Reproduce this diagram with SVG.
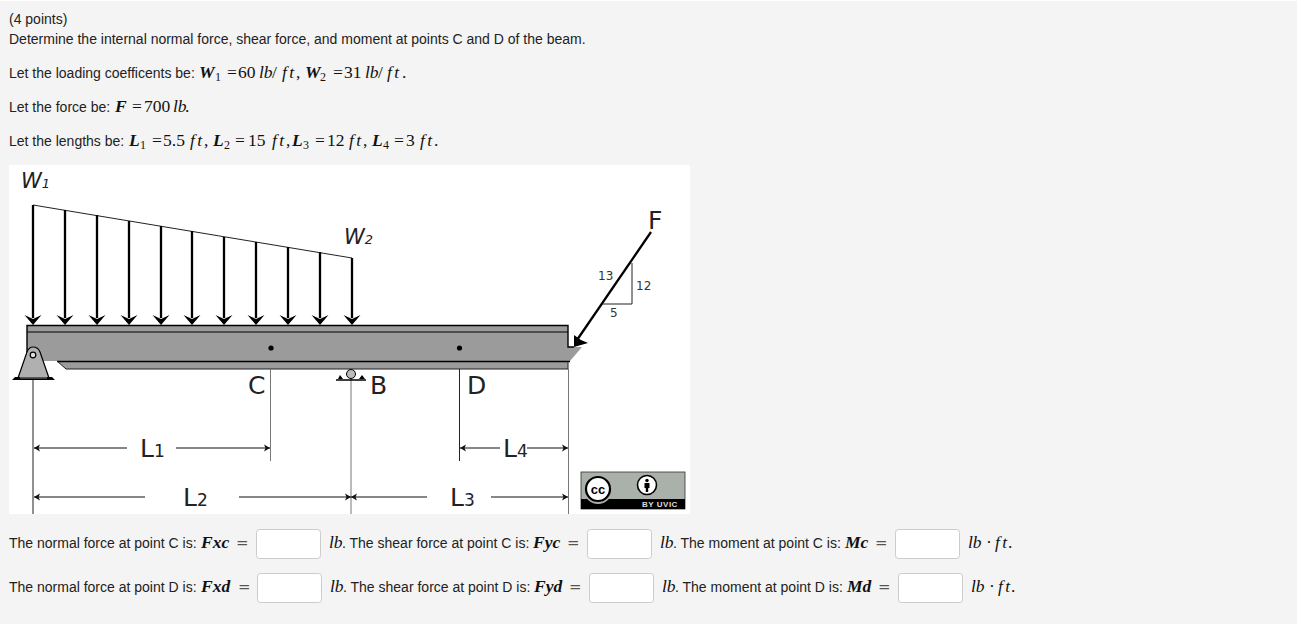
<svg xmlns="http://www.w3.org/2000/svg" width="1297" height="624" viewBox="0 0 1297 624">
<style>
text{font-family:"Liberation Sans",Arial,sans-serif;font-size:14px;fill:#222}
text.m{font-family:"Liberation Serif","Times New Roman",serif;font-size:17.5px;fill:#111}
.mi{font-style:italic;font-weight:bold}
.li{font-style:italic}
.ft{font-style:italic;letter-spacing:2.500px}
.s{font-size:12px}
text.eq{font-family:"DejaVu Sans",Verdana,sans-serif;font-size:15px;fill:#555}
text.d{font-family:"DejaVu Sans",Verdana,sans-serif;font-size:25px;fill:#222}
text.wl{font-family:"DejaVu Sans",Verdana,sans-serif;font-size:21px;font-style:italic;fill:#222}
.ds{font-size:17px}
.ws{font-size:13px}
text.n{font-family:"DejaVu Sans",Verdana,sans-serif;font-size:12px;fill:#333}
.box{fill:#fff;stroke:#ccc;stroke-width:1}
.w{fill:none;stroke:#000;stroke-width:2.300}
.t{fill:none;stroke:#222;stroke-width:1}
.g{fill:none;stroke:#777;stroke-width:1}
.dim{fill:none;stroke:#111;stroke-width:1.200}
</style>
<defs>
<path id="ah" d="M-8.500 -10L0 -6L8.500 -10L0 0Z" fill="#000"/>
<path id="dh" d="M0 0L-6 -3.500L-4.500 0L-6 3.500Z" fill="#111"/>
</defs>
<rect width="1297" height="624" fill="#f4f4f4"/>
<rect width="1297" height="1" fill="#fff"/>
<rect x="9" y="165" width="681" height="349" fill="#fff"/>
<g id="question">
<text x="9" y="24">(4 points)</text>
<text x="9" y="44">Determine the internal normal force, shear force, and moment at points C and D of the beam.</text>
<text x="9" y="78">Let the loading coefficents be:</text>
<text class="m" y="78"><tspan class="mi" x="199">W</tspan><tspan class="s" x="215" dy="3">1</tspan><tspan x="227" dy="-3">=</tspan><tspan x="238">60</tspan><tspan class="li" x="259">lb</tspan><tspan x="272">/</tspan><tspan class="ft" x="282">ft</tspan><tspan x="296">,</tspan><tspan class="mi" x="305">W</tspan><tspan class="s" x="320" dy="3">2</tspan><tspan x="333" dy="-3">=</tspan><tspan x="344">31</tspan><tspan class="li" x="365">lb</tspan><tspan x="378">/</tspan><tspan class="ft" x="387">ft</tspan><tspan x="402">.</tspan></text>
<text x="9" y="112">Let the force be:</text>
<text class="m" y="112"><tspan class="mi" x="115">F</tspan><tspan x="132">=</tspan><tspan x="144">700</tspan><tspan class="li" x="173">lb</tspan><tspan x="185">.</tspan></text>
<text x="9" y="146">Let the lengths be:</text>
<text class="m" y="146"><tspan class="mi" x="129">L</tspan><tspan class="s" x="140" dy="3">1</tspan><tspan x="152" dy="-3">=</tspan><tspan x="163">5.5</tspan><tspan class="ft" x="190">ft</tspan><tspan x="204">,</tspan><tspan class="mi" x="213">L</tspan><tspan class="s" x="224" dy="3">2</tspan><tspan x="235" dy="-3">=</tspan><tspan x="248">15</tspan><tspan class="ft" x="272">ft</tspan><tspan x="286">,</tspan><tspan class="mi" x="292">L</tspan><tspan class="s" x="303" dy="3">3</tspan><tspan x="315" dy="-3">=</tspan><tspan x="327">12</tspan><tspan class="ft" x="349">ft</tspan><tspan x="363">,</tspan><tspan class="mi" x="372">L</tspan><tspan class="s" x="383" dy="3">4</tspan><tspan x="394" dy="-3">=</tspan><tspan x="406">3</tspan><tspan class="ft" x="420">ft</tspan><tspan x="434">.</tspan></text>
</g>
<g id="beam">
<path d="M27 325H568V347H582L570 361H568V369H66L57 361H27Z" fill="#9b9b9b"/>
<path d="M27 361V325.500H568V347H574" fill="none" stroke="#000" stroke-width="1.400"/>
<path d="M27 332H568" stroke="#000" stroke-width="1.200"/>
<path d="M57 361.500H570" stroke="#000" stroke-width="1.600"/>
<path d="M57 361L66 369H568V361" fill="none" stroke="#222" stroke-width="1"/>
<circle cx="271" cy="348" r="2.600" fill="#000"/>
<circle cx="459.500" cy="348" r="2.600" fill="#000"/>
</g>
<g id="connectors">
<path class="t" d="M33 205L352 258"/>
<path class="w" d="M33 205V318M65 210V318M97 215V318M129 221V318M161 226V318M192 231V318M224 237V318M256 242V318M288 247V318M320 252V318M352 258V318"/>
<use href="#ah" x="33" y="325"/><use href="#ah" x="65" y="325"/><use href="#ah" x="97" y="325"/><use href="#ah" x="129" y="325"/><use href="#ah" x="161" y="325"/><use href="#ah" x="192" y="325"/><use href="#ah" x="224" y="325"/><use href="#ah" x="256" y="325"/><use href="#ah" x="288" y="325"/><use href="#ah" x="320" y="325"/><use href="#ah" x="352" y="325"/>
<path d="M651 232L577 340" fill="none" stroke="#000" stroke-width="2.300"/>
<path d="M574 347L574 335L581 340L588 343Z" fill="#000"/>
<path class="t" d="M632 263V304H603"/>
<path class="t" d="M33 379V514"/>
<path class="g" d="M270.500 369V461"/>
<path class="g" d="M351 378V514"/>
<path class="t" d="M459.500 369V461"/>
<path class="g" d="M568.500 369V514"/>
<path class="dim" d="M34 448H127M176 448H270M34 497H145M239 497H351M351 497H427M491 497H568M460 448H500M527 448H568"/>
<use href="#dh" transform="translate(34 448) rotate(180)"/><use href="#dh" x="270" y="448"/>
<use href="#dh" transform="translate(34 497) rotate(180)"/><use href="#dh" x="351" y="497"/><use href="#dh" transform="translate(351 497) rotate(180)"/><use href="#dh" x="568" y="497"/>
<use href="#dh" transform="translate(460 448) rotate(180)"/><use href="#dh" x="568" y="448"/>
</g>
<g id="support-A">
<path d="M18 378L27 352Q29 347 33 347Q38 347 40 352L49 378Z" fill="#b0b0b0" stroke="#000" stroke-width="1.200"/>
<circle cx="33" cy="355" r="2.800" fill="#ddd" stroke="#000" stroke-width="1.200"/>
<path d="M12 380L15 377H20V378.500H47V377H52L55 380Z" fill="#000"/>
</g>
<g id="support-B">
<circle cx="351" cy="374" r="4.500" fill="#bbb" stroke="#000"/>
<path d="M336 380H366" stroke="#000" stroke-width="1.500"/>
<path d="M338 379L340 375L343 379ZM359 379L362 375L365 379Z" fill="#000"/>
</g>
<g id="labels">
<text class="wl" x="21" y="188">W<tspan class="ws">1</tspan></text>
<text class="wl" x="344" y="244">W<tspan class="ws">2</tspan></text>
<text class="d" x="648" y="229">F</text>
<text class="d" x="248" y="394">C</text>
<text class="d" x="370" y="394">B</text>
<text class="d" x="467" y="394">D</text>
<text class="d" x="140" y="457">L<tspan class="ds">1</tspan></text>
<text class="d" x="183" y="506">L<tspan class="ds">2</tspan></text>
<text class="d" x="450" y="506">L<tspan class="ds">3</tspan></text>
<text class="d" x="503" y="457">L<tspan class="ds">4</tspan></text>
<text class="n" x="598" y="280">13</text>
<text class="n" x="636" y="290">12</text>
<text class="n" x="610" y="317">5</text>
</g>
<g id="license">
<rect x="581" y="472" width="104" height="37" fill="#aab0aa" stroke="#333" stroke-width="0.800"/>
<rect x="581" y="499" width="104" height="10" fill="#000"/>
<circle cx="598" cy="490" r="14" fill="#aab0aa"/>
<circle cx="598" cy="489" r="12" fill="#fff" stroke="#000" stroke-width="2.200"/>
<text x="598" y="493.500" text-anchor="middle" style="fill:#000;font-size:13px;font-weight:bold">cc</text>
<circle cx="647" cy="485" r="9.500" fill="#fff" stroke="#000" stroke-width="1.600"/>
<circle cx="647" cy="480.500" r="1.700" fill="#000"/>
<path d="M644.500 483H649.500V488H648.200V492H645.800V488H644.500Z" fill="#000"/>
<text x="660" y="507" text-anchor="middle" style="fill:#ddd;font-size:8px;letter-spacing:.5px;font-weight:bold;font-family:'Liberation Sans',sans-serif">BY UVIC</text>
</g>
<g id="answer-row-1">
<text x="9" y="548">The normal force at point C is:</text>
<text class="m mi" x="201" y="548">Fxc</text><text class="eq" x="236" y="548">=</text>
<rect class="box" x="256.500" y="529.500" width="64" height="29" rx="3"/>
<text class="m li" x="329" y="548">lb</text><text x="342" y="548">. The shear force at point C is:</text>
<text class="m mi" x="533" y="548">Fyc</text><text class="eq" x="567" y="548">=</text>
<rect class="box" x="587.500" y="529.500" width="64" height="29" rx="3"/>
<text class="m li" x="660" y="548">lb</text><text x="673" y="548">. The moment at point C is:</text>
<text class="m mi" x="845" y="548">Mc</text><text class="eq" x="875" y="548">=</text>
<rect class="box" x="895.500" y="529.500" width="64" height="29" rx="3"/>
<text class="m" y="548"><tspan class="li" x="968">lb</tspan><tspan x="986">·</tspan><tspan class="ft" x="995">ft</tspan><tspan x="1008">.</tspan></text>
</g>
<g id="answer-row-2">
<text x="9" y="592">The normal force at point D is:</text>
<text class="m mi" x="201" y="592">Fxd</text><text class="eq" x="238" y="592">=</text>
<rect class="box" x="257.500" y="573.500" width="64" height="29" rx="3"/>
<text class="m li" x="330" y="592">lb</text><text x="343" y="592">. The shear force at point D is:</text>
<text class="m mi" x="534" y="592">Fyd</text><text class="eq" x="569" y="592">=</text>
<rect class="box" x="589.500" y="573.500" width="64" height="29" rx="3"/>
<text class="m li" x="662" y="592">lb</text><text x="675" y="592">. The moment at point D is:</text>
<text class="m mi" x="847" y="592">Md</text><text class="eq" x="878" y="592">=</text>
<rect class="box" x="898.500" y="573.500" width="64" height="29" rx="3"/>
<text class="m" y="592"><tspan class="li" x="971">lb</tspan><tspan x="989">·</tspan><tspan class="ft" x="998">ft</tspan><tspan x="1011">.</tspan></text>
</g>
</svg>
